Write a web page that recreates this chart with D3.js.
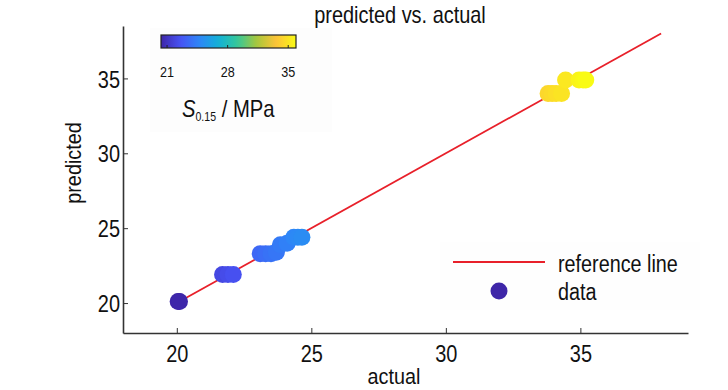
<!DOCTYPE html>
<html><head><meta charset="utf-8">
<script src="https://cdn.jsdelivr.net/npm/d3@7"></script>
<style>
body{margin:0;background:#fff;}
text{font-family:"Liberation Sans",Arial,sans-serif;fill:#111;}
</style></head>
<body><svg id="c" width="728" height="390"></svg>
<script>
const actual    = [20.05, 20.1, 21.7, 21.9, 22.1, 23.1, 23.3, 23.5, 23.7, 23.85, 24.1, 24.35, 24.5, 24.65, 33.8, 33.95, 34.1, 34.3, 34.45, 34.95, 35.1, 35.2];
const predicted = [20.1, 20.1, 21.9, 21.9, 21.9, 23.3, 23.3, 23.3, 23.4, 23.9, 24.0, 24.4, 24.4, 24.4, 34.0, 34.0, 34.0, 34.0, 34.9, 34.9, 34.9, 34.9];
const refStart = 20, refEnd = 38;
const xTicks = [20, 25, 30, 35];
const yTicks = [20, 25, 30, 35];
const cbTicks = [21, 28, 35];
const cbRange = [20.3, 35.9];
const colorRange = [20.05, 35.2];

const parula = [[0.2422,0.1504,0.6603],[0.2810,0.3228,0.9579],[0.1786,0.5289,0.9682],[0.0689,0.6948,0.8394],[0.2161,0.7843,0.5923],[0.6720,0.7793,0.2227],[0.9970,0.7659,0.2199],[0.9769,0.9839,0.0805]];
const parulaInterp = t => {
  t = Math.max(0, Math.min(1, t));
  const n = parula.length - 1, i = Math.min(n - 1, Math.floor(t * n)), f = t * n - i;
  const a = parula[i], b = parula[i + 1];
  return d3.rgb((a[0]+(b[0]-a[0])*f)*255, (a[1]+(b[1]-a[1])*f)*255, (a[2]+(b[2]-a[2])*f)*255).toString();
};
const color = d3.scaleSequential(parulaInterp).domain(colorRange);

// condense text horizontally to mimic a narrow face
function squeeze(sel, factor) {
  sel.each(function () {
    const w = this.getComputedTextLength();
    this.setAttribute("textLength", (w * factor).toFixed(1));
    this.setAttribute("lengthAdjust", "spacingAndGlyphs");
  });
  return sel;
}

const svg = d3.select("#c");
const x = d3.scaleLinear().domain([18, 39]).range([123, 688]);
const y = d3.scaleLinear().domain([18, 38.5]).range([333, 26]);

// background boxes (colorbar & legend)
svg.append("rect").attr("x", 150).attr("y", 28).attr("width", 182).attr("height", 104).attr("fill", "#fdfdfd");
svg.append("rect").attr("x", 440).attr("y", 242).attr("width", 260).attr("height", 68).attr("fill", "#fefefe");

// title
squeeze(svg.append("text").attr("x", 400).attr("y", 23).attr("text-anchor", "middle").attr("font-size", 24).text("predicted vs. actual"), 0.83);

// axes
const xAxis = svg.append("g").attr("transform", "translate(0,333)")
  .call(d3.axisBottom(x).tickValues(xTicks).tickSizeInner(-5).tickSizeOuter(0).tickPadding(12));
const yAxis = svg.append("g").attr("transform", "translate(123,0)")
  .call(d3.axisLeft(y).tickValues(yTicks).tickSizeInner(-5).tickSizeOuter(0).tickPadding(4));
[xAxis, yAxis].forEach(g => {
  g.select(".domain").attr("stroke", "#333").attr("stroke-width", 1.6);
  g.selectAll(".tick line").attr("stroke", "#333");
  g.selectAll(".tick text").attr("font-size", 24).attr("fill", "#111").attr("font-family", null);
  squeeze(g.selectAll(".tick text"), 0.83);
});
xAxis.selectAll(".tick text").attr("dy", null).attr("y", 29);
yAxis.selectAll(".tick text").attr("dy", "0.36em").attr("x", -3);

squeeze(svg.append("text").attr("x", 394).attr("y", 384).attr("text-anchor", "middle").attr("font-size", 22).text("actual"), 0.9);
squeeze(svg.append("text").attr("transform", "translate(81,163) rotate(-90)").attr("text-anchor", "middle").attr("font-size", 22).text("predicted"), 0.9);

// reference line
svg.append("line")
  .attr("x1", x(refStart)).attr("y1", y(refStart)).attr("x2", x(refEnd)).attr("y2", y(refEnd))
  .attr("stroke", "#e8202a").attr("stroke-width", 1.8);

// points
svg.append("g").selectAll("circle").data(actual).join("circle")
  .attr("cx", (d) => x(d)).attr("cy", (d, i) => y(predicted[i])).attr("r", 8.5)
  .attr("fill", (d) => color(d));

// colorbar
const cbx = d3.scaleLinear().domain(cbRange).range([161, 296]);
const defs = svg.append("defs");
const grad = defs.append("linearGradient").attr("id", "pg");
d3.range(0, 1.0001, 0.05).forEach(t => {
  grad.append("stop").attr("offset", t).attr("stop-color", parulaInterp(t));
});
svg.append("rect").attr("x", cbx.range()[0]).attr("y", 35).attr("width", cbx.range()[1] - cbx.range()[0]).attr("height", 13)
  .attr("fill", "url(#pg)").attr("stroke", "#222").attr("stroke-width", 1.2);
svg.append("g").selectAll("line").data(cbTicks).join("line")
  .attr("x1", d => cbx(d)).attr("x2", d => cbx(d)).attr("y1", 45).attr("y2", 48).attr("stroke", "#222");
squeeze(svg.append("g").selectAll("text").data(cbTicks).join("text")
  .attr("x", d => cbx(d)).attr("y", 77).attr("text-anchor", "middle").attr("font-size", 15).text(d => d), 0.84);
const lab = svg.append("g").attr("transform", "translate(182,117) scale(0.88,1)")
  .append("text").attr("x", 0).attr("y", 0).attr("font-size", 23);
lab.append("tspan").attr("font-style", "italic").text("S");
lab.append("tspan").attr("font-size", 12).attr("dy", 4).text("0.15");
lab.append("tspan").attr("dy", -4).text(" / MPa");

// legend
svg.append("line").attr("x1", 453).attr("x2", 545).attr("y1", 262).attr("y2", 262).attr("stroke", "#e8202a").attr("stroke-width", 1.8);
squeeze(svg.append("text").attr("x", 558).attr("y", 272).attr("font-size", 23).text("reference line"), 0.86);
svg.append("circle").attr("cx", 499).attr("cy", 291).attr("r", 8.5).attr("fill", color(colorRange[0]));
squeeze(svg.append("text").attr("x", 558).attr("y", 300).attr("font-size", 23).text("data"), 0.86);
</script></body></html>
